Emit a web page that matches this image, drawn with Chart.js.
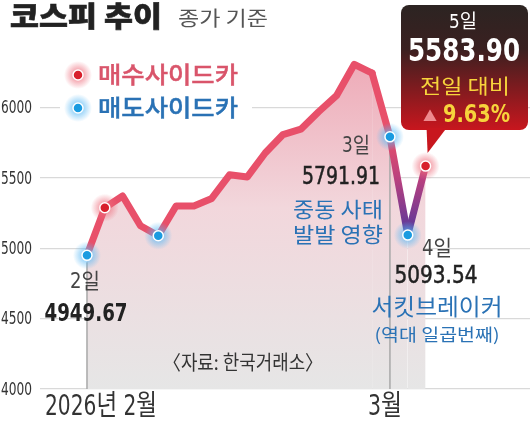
<!DOCTYPE html>
<html>
<head>
<meta charset="utf-8">
<script src="https://cdn.jsdelivr.net/npm/chart.js@4.4.1/dist/chart.umd.min.js"></script>
<style>
  html, body { margin: 0; background: #fff; }
  canvas { display: block; }
</style>
</head>
<body>
<canvas id="c" width="530" height="424"></canvas>
<script>
// 거래일 (2026년 2월 ~ 3월)
const days = ['2/2','2/3','2/4','2/5','2/6','2/9','2/10','2/11','2/12','2/13','2/19','2/20',
              '2/23','2/24','2/25','2/26','2/27','3/3','3/4','3/5'];
// 코스피 종가
const kospi = [4949.67, 5288, 5371, 5160, 5089, 5300, 5301, 5354, 5522, 5507, 5677, 5808,
               5846, 5970, 6084, 6307, 6244, 5791.91, 5093.54, 5583.90];
// 사이드카 발동일 (buy = 매수, sell = 매도)
const sidecar = ['sell','buy','','','sell','','','','','','','',
                 '','','','','','sell','sell','buy'];
const yTicks = [4000, 4500, 5000, 5500, 6000];
const monthNames = ['2026년 2월', '3월'];

const NUM = '"Liberation Sans Narrow", "DejaVu Sans Condensed", "Noto Sans CJK KR", sans-serif';
const KR = '"Noto Sans CJK KR", "Noto Sans", sans-serif';

const RED = '#e8506a';
const PURPLE = '#55389c';
const BLUE_TXT = '#2a72b5';

// 월 시작 인덱스
const monthStarts = [];
days.forEach((d, i) => {
  if (i === 0 || d.split('/')[0] !== days[i - 1].split('/')[0]) monthStarts.push(i);
});

const linePts = kospi.map((v, i) => ({ x: i, y: v }));
const sidePts = kospi.map((v, i) => ({ x: i, y: sidecar[i] ? v : null }));

function txt(ctx, s, x, y, o) {
  ctx.save();
  ctx.font = `${o.weight || 'normal'} ${o.size}px ${o.family || NUM}`;
  ctx.fillStyle = o.color || '#333';
  ctx.textBaseline = 'middle';
  ctx.textAlign = o.align || 'center';
  ctx.translate(x, y);
  if (o.w) {
    const m = ctx.measureText(s).width;
    ctx.scale(o.w / m, 1);
  }
  ctx.fillText(s, 0, 0);
  if (o.stroke) {
    ctx.strokeStyle = o.color || '#333';
    ctx.lineWidth = o.stroke;
    ctx.strokeText(s, 0, 0);
  }
  ctx.restore();
}

function glowDot(ctx, x, y, type) {
  const glow = type === 'buy' ? 'rgba(238,110,125,' : 'rgba(90,185,245,';
  const g = ctx.createRadialGradient(x, y, 3, x, y, 14);
  g.addColorStop(0, glow + '0.75)');
  g.addColorStop(1, glow + '0)');
  ctx.save();
  ctx.fillStyle = g;
  ctx.beginPath();
  ctx.arc(x, y, 14, 0, Math.PI * 2);
  ctx.fill();
  ctx.restore();
}

function dot(ctx, x, y, type) {
  ctx.save();
  ctx.fillStyle = type === 'buy' ? '#d8202c' : '#1a9be0';
  ctx.strokeStyle = '#fff';
  ctx.lineWidth = 1.5;
  ctx.beginPath();
  ctx.arc(x, y, 5, 0, Math.PI * 2);
  ctx.fill();
  ctx.stroke();
  ctx.restore();
}

function vGradient(chart) {
  const { ctx, scales } = chart;
  const y = scales.y;
  const g = ctx.createLinearGradient(0, y.getPixelForValue(5800), 0, y.getPixelForValue(5100));
  g.addColorStop(0, RED);
  g.addColorStop(0.45, '#b8407f');
  g.addColorStop(1, PURPLE);
  return g;
}

const deco = {
  id: 'deco',
  beforeDatasetDraw(chart, args) {
    const { ctx, chartArea } = chart;
    if (args.index === 1) {
      // 월 구분선 (면 위, 선 아래)
      const meta = chart.getDatasetMeta(1);
      ctx.save();
      ctx.strokeStyle = '#a8a8a8';
      ctx.lineWidth = 1.5;
      monthStarts.forEach(i => {
        const p = meta.data[i];
        ctx.beginPath();
        ctx.moveTo(p.x, p.y + 7);
        ctx.lineTo(p.x, chartArea.bottom);
        ctx.stroke();
      });
      ctx.restore();
    }
    if (args.index === 0) {
      const meta = chart.getDatasetMeta(0);
      sidecar.forEach((t, i) => {
        if (t) glowDot(ctx, meta.data[i].x, meta.data[i].y, t);
      });
    }
  },
  afterDraw(chart) {
    const { ctx, scales } = chart;
    const meta = chart.getDatasetMeta(1);
    const pt = i => meta.data[i];

    // y축 눈금 글자
    yTicks.forEach(v => {
      txt(ctx, String(v), 32, scales.y.getPixelForValue(v) + 1, { size: 18, color: '#333', align: 'right', w: 31 });
    });

    // 제목
    txt(ctx, '코스피 추이', 10, 16, { size: 28, weight: 900, family: KR, color: '#222', align: 'left', w: 152, stroke: 0.6 });
    txt(ctx, '종가 기준', 178, 18, { size: 20, family: KR, color: '#555', align: 'left', w: 90 });

    // 범례
    ctx.fillStyle = '#fff';
    ctx.fillRect(60, 58, 192, 66);
    glowDot(ctx, 78, 75, 'buy'); dot(ctx, 78, 75, 'buy');
    glowDot(ctx, 78, 108, 'sell'); dot(ctx, 78, 108, 'sell');
    txt(ctx, '매수사이드카', 98, 74, { size: 23, weight: 500, family: KR, color: '#d9556b', align: 'left', w: 140, stroke: 0.4 });
    txt(ctx, '매도사이드카', 98, 107, { size: 23, weight: 500, family: KR, color: BLUE_TXT, align: 'left', w: 140, stroke: 0.4 });

    // x축 월 표시
    txt(ctx, monthNames[0], 45, 408, { size: 28, color: '#333', align: 'left', w: 112 });
    txt(ctx, monthNames[1], pt(monthStarts[1]).x - 5, 408, { size: 28, color: '#333', w: 34 });

    // 2일
    const p0 = pt(0);
    txt(ctx, '2일', p0.x - 2, 283, { size: 21, color: '#444', w: 30 });
    txt(ctx, kospi[0].toFixed(2), p0.x - 1, 314, { size: 25, weight: 'bold', color: '#222', w: 83 });

    // 3일
    txt(ctx, '3일', 356, 147, { size: 21, color: '#444', w: 28 });
    txt(ctx, kospi[17].toFixed(2), 341, 177, { size: 25, color: '#222', w: 78, stroke: 0.5 });
    txt(ctx, '중동 사태', 338, 209, { size: 21, family: KR, color: BLUE_TXT, w: 90 });
    txt(ctx, '발발 영향', 338, 234, { size: 21, family: KR, color: BLUE_TXT, w: 90 });

    // 4일
    txt(ctx, '4일', 437, 250, { size: 21, color: '#444', w: 30 });
    txt(ctx, kospi[18].toFixed(2), 436, 276, { size: 25, color: '#222', w: 83, stroke: 0.5 });
    txt(ctx, '서킷브레이커', 437, 306, { size: 23, family: KR, color: BLUE_TXT, w: 131 });
    txt(ctx, '(역대 일곱번째)', 437, 335, { size: 17, family: KR, color: BLUE_TXT, w: 125 });

    // 출처
    txt(ctx, '〈자료: 한국거래소〉', 243, 362, { size: 20, family: KR, color: '#333', w: 160 });

    // 5일 말풍선
    const p5 = pt(19);
    const bx = 401, by = 5, bw = 127, bh = 125;
    const g = ctx.createLinearGradient(0, by, 0, by + bh);
    g.addColorStop(0, '#2c2422');
    g.addColorStop(0.35, '#3a2020');
    g.addColorStop(1, '#c8161e');
    ctx.save();
    ctx.fillStyle = g;
    ctx.beginPath();
    ctx.roundRect(bx, by, bw, bh, 8);
    ctx.fill();
    ctx.fillStyle = '#c8161e';
    ctx.beginPath();
    ctx.moveTo(p5.x + 1, by + bh - 2);
    ctx.lineTo(p5.x + 21, by + bh - 2);
    ctx.lineTo(p5.x + 2, p5.y - 13);
    ctx.closePath();
    ctx.fill();
    ctx.restore();

    const pct = ((kospi[19] / kospi[18] - 1) * 100).toFixed(2);
    txt(ctx, '5일', 463, 23, { size: 19, color: '#fff', w: 28 });
    txt(ctx, kospi[19].toFixed(2), 464, 53, { size: 32, weight: 'bold', color: '#fff', w: 112 });
    txt(ctx, '전일 대비', 465, 86, { size: 20, family: KR, color: '#f7d43c', w: 90 });
    txt(ctx, '▲', 430, 116, { size: 14, family: KR, color: '#ee8a8e' });
    txt(ctx, pct + '%', 443, 116, { size: 24, weight: 'bold', color: '#f7d43c', align: 'left', w: 67 });
  }
};

new Chart(document.getElementById('c'), {
  type: 'line',
  data: {
    datasets: [
      {
        // 사이드카 점
        data: sidePts,
        showLine: false,
        order: 0,
        pointRadius: ctx => sidecar[ctx.dataIndex] ? 5 : 0,
        pointBackgroundColor: ctx => sidecar[ctx.dataIndex] === 'buy' ? '#d8202c' : '#1a9be0',
        pointBorderColor: '#fff',
        pointBorderWidth: 1.5,
        spanGaps: false
      },
      {
        // 코스피 종가선
        data: linePts,
        order: 1,
        borderColor: RED,
        borderWidth: 7,
        borderJoinStyle: 'round',
        borderCapStyle: 'round',
        pointRadius: 0,
        tension: 0,
        fill: 'origin',
        backgroundColor: ctx => {
          const { chart } = ctx;
          const a = chart.chartArea;
          if (!a) return null;
          const g = chart.ctx.createLinearGradient(0, 60, 0, a.bottom);
          g.addColorStop(0, '#eeaab7');
          g.addColorStop(0.45, '#f2d7dc');
          g.addColorStop(1, '#e6e6e6');
          return g;
        },
        segment: {
          borderColor: ctx => ctx.p0DataIndex >= 16 ? vGradient(ctx.chart) : undefined
        }
      }
    ]
  },
  options: {
    responsive: false,
    animation: false,
    layout: { autoPadding: false, padding: { left: 0, right: 0, top: 0, bottom: 35 } },
    plugins: { legend: { display: false }, tooltip: { enabled: false } },
    scales: {
      x: { type: 'linear', min: -2.637, max: 24.86, display: false },
      y: {
        min: 4000,
        max: 6764,
        afterFit: s => { s.width = 40; s.paddingTop = 0; s.paddingBottom = 0; },
        afterBuildTicks: s => { s.ticks = yTicks.map(v => ({ value: v })); },
        grid: { color: '#d9d9d9', drawTicks: false, lineWidth: 1.2 },
        border: { display: false },
        ticks: { display: false }
      }
    }
  },
  plugins: [deco]
});
</script>
</body>
</html>
